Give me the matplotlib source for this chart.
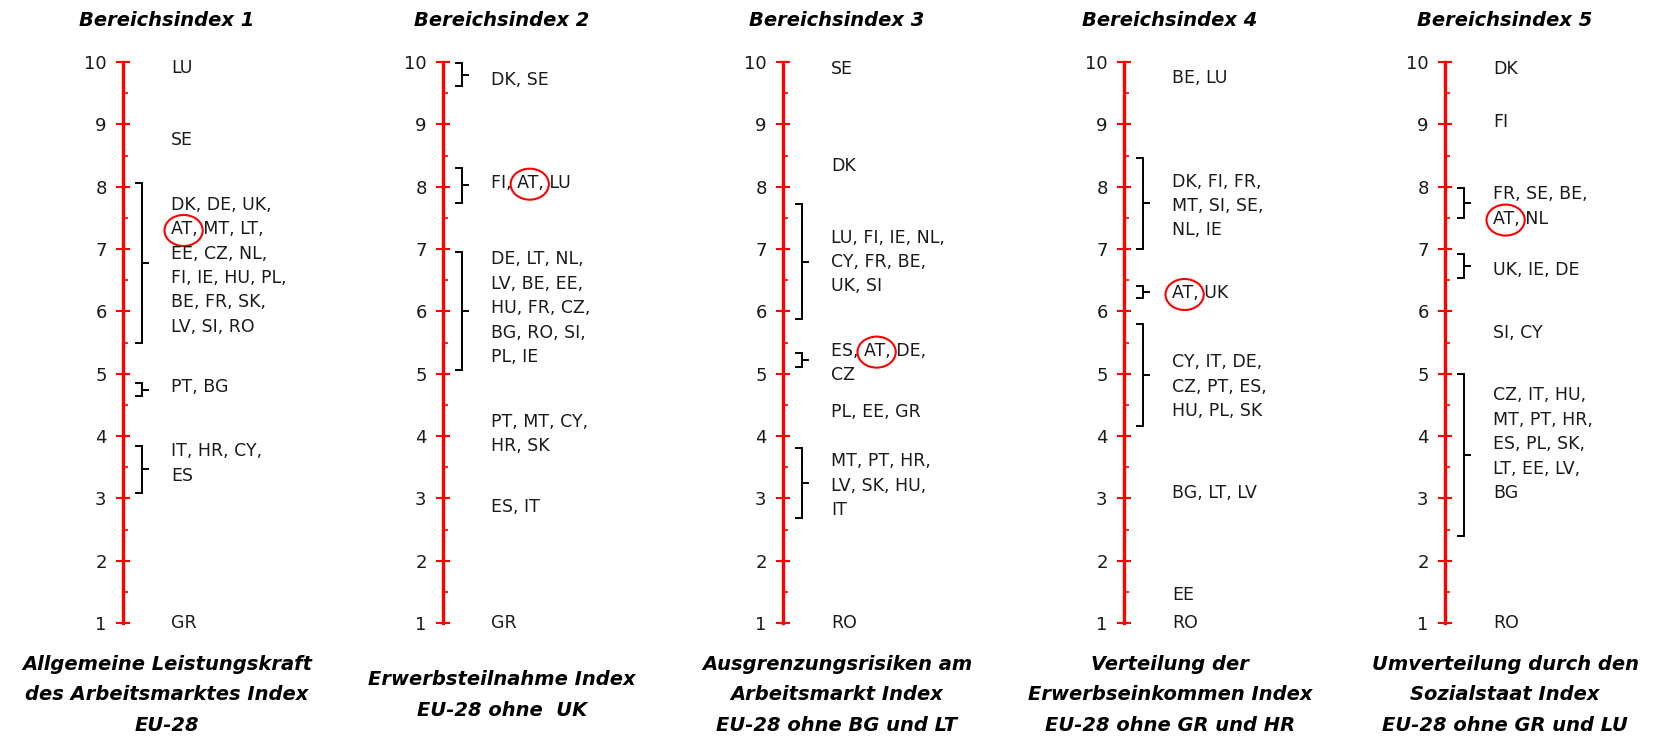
import matplotlib
matplotlib.use("Agg")
import matplotlib.pyplot as plt
from matplotlib.patches import Ellipse
from matplotlib.ticker import MultipleLocator

# --- data -------------------------------------------------------------
titles = ["Bereichsindex 1", "Bereichsindex 2", "Bereichsindex 3",
          "Bereichsindex 4", "Bereichsindex 5"]

captions = [
    "Allgemeine Leistungskraft\ndes Arbeitsmarktes Index\nEU-28",
    "Erwerbsteilnahme Index\nEU-28 ohne  UK",
    "Ausgrenzungsrisiken am\nArbeitsmarkt Index\nEU-28 ohne BG und LT",
    "Verteilung der\nErwerbseinkommen Index\nEU-28 ohne GR und HR",
    "Umverteilung durch den\nSozialstaat Index\nEU-28 ohne GR und LU",
]

# (countries, index value of label, bracket range (top, bottom) or None)
groups_1 = [
    ("LU", 9.90, None),
    ("SE", 8.75, None),
    ("DK, DE, UK,\nAT, MT, LT,\nEE, CZ, NL,\nFI, IE, HU, PL,\nBE, FR, SK,\nLV, SI, RO", 6.73, (8.06, 5.49)),
    ("PT, BG", 4.79, (4.85, 4.64)),
    ("IT, HR, CY,\nES", 3.56, (3.84, 3.09)),
    ("GR", 1.00, None),
]
groups_2 = [
    ("DK, SE", 9.71, (9.98, 9.61)),
    ("FI, AT, LU", 8.06, (8.30, 7.74)),
    ("DE, LT, NL,\nLV, BE, EE,\nHU, FR, CZ,\nBG, RO, SI,\nPL, IE", 6.05, (6.95, 5.06)),
    ("PT, MT, CY,\nHR, SK", 4.03, None),
    ("ES, IT", 2.86, None),
    ("GR", 1.00, None),
]
groups_3 = [
    ("SE", 9.89, None),
    ("DK", 8.33, None),
    ("LU, FI, IE, NL,\nCY, FR, BE,\nUK, SI", 6.79, (7.72, 5.87)),
    ("ES, AT, DE,\nCZ", 5.17, (5.33, 5.10)),
    ("PL, EE, GR", 4.38, None),
    ("MT, PT, HR,\nLV, SK, HU,\nIT", 3.20, (3.81, 2.68)),
    ("RO", 1.00, None),
]
groups_4 = [
    ("BE, LU", 9.74, None),
    ("DK, FI, FR,\nMT, SI, SE,\nNL, IE", 7.69, (8.46, 7.00)),
    ("AT, UK", 6.29, (6.41, 6.21)),
    ("CY, IT, DE,\nCZ, PT, ES,\nHU, PL, SK", 4.79, (5.80, 4.16)),
    ("BG, LT, LV", 3.08, None),
    ("EE", 1.45, None),
    ("RO", 1.00, None),
]
groups_5 = [
    ("DK", 9.89, None),
    ("FI", 9.04, None),
    ("FR, SE, BE,\nAT, NL", 7.68, (7.98, 7.50)),
    ("UK, IE, DE", 6.66, (6.92, 6.53)),
    ("SI, CY", 5.65, None),
    ("CZ, IT, HU,\nMT, PT, HR,\nES, PL, SK,\nLT, EE, LV,\nBG", 3.87, (4.99, 2.40)),
    ("RO", 1.00, None),
]
panels = [groups_1, groups_2, groups_3, groups_4, groups_5]
highlight = "AT"

# --- layout -----------------------------------------------------------
FW, FH = 1653, 739
axis_px = [123, 443, 783, 1124, 1445]
center_px = [167, 502, 837, 1170, 1505]
y_top_px, y_bot_px = 62, 623
W = 210                      # axes width in px (x data units = px)
px_per_unit = (y_bot_px - y_top_px) / 9.0
line_step = 24.4 / px_per_unit
text_dx = 48
br_x, br_hook, br_mid = 19, 6, 6
txt_color = "#1a1a1a"

fig = plt.figure(figsize=(FW / 100, FH / 100), dpi=100)
renderer = fig.canvas.get_renderer()


def text_width(s, **kw):
    t = fig.text(0, 0, s, **kw)
    w = t.get_window_extent(renderer).width
    t.remove()
    return w


label_kw = dict(fontsize=12.5, family="DejaVu Sans", color=txt_color)

for i, groups in enumerate(panels):
    ax = fig.add_axes([axis_px[i] / FW, 1 - y_bot_px / FH, W / FW,
                       (y_bot_px - y_top_px) / FH])
    ax.set_xlim(0, W)
    ax.set_ylim(1, 10)
    ax.patch.set_visible(False)
    for s in ("top", "right", "bottom"):
        ax.spines[s].set_visible(False)
    ax.spines["left"].set_color("red")
    ax.spines["left"].set_linewidth(2.4)
    ax.set_xticks([])
    ax.yaxis.set_major_locator(MultipleLocator(1))
    ax.yaxis.set_minor_locator(MultipleLocator(0.5))
    ax.tick_params(axis="y", which="major", direction="inout", length=9.5,
                   width=1.5, color="red", labelsize=13, labelcolor=txt_color,
                   pad=7)
    ax.tick_params(axis="y", which="minor", direction="in", length=3.6,
                   width=1.2, color="red")

    for text, yv, br in groups:
        lines = text.split("\n")
        n = len(lines)
        for k, ln in enumerate(lines):
            ly = yv + (n - 1) / 2 * line_step - k * line_step
            ax.text(text_dx, ly, ln, ha="left", va="center", **label_kw)
            if highlight in ln.replace(",", " ").split():
                pre = ln[:ln.index(highlight)]
                w_all = text_width(pre + highlight, **label_kw)
                w_hl = text_width(highlight, **label_kw)
                cx = text_dx + w_all - w_hl / 2 + 2
                ax.add_patch(Ellipse((cx, ly - 0.02), w_hl + 17, 31 / px_per_unit,
                                     fill=False, edgecolor="red", lw=1.5,
                                     clip_on=False))
        if br is not None:
            top, bot = br
            mid = (top + bot) / 2
            ax.plot([br_x - br_hook, br_x, br_x, br_x - br_hook],
                    [top, top, bot, bot], color="black", lw=1.4,
                    clip_on=False, solid_joinstyle="miter")
            ax.plot([br_x, br_x + br_mid], [mid, mid], color="black", lw=1.4,
                    clip_on=False)

    fig.text(center_px[i] / FW, 1 - 20 / FH, titles[i], ha="center",
             va="center", fontsize=14, fontweight="bold", style="italic",
             color="black")
    fig.text(center_px[i] / FW, 1 - 695 / FH, captions[i], ha="center",
             va="center", fontsize=14, fontweight="bold", style="italic",
             color="black", linespacing=1.75)

fig.savefig("out.png", dpi=100)
